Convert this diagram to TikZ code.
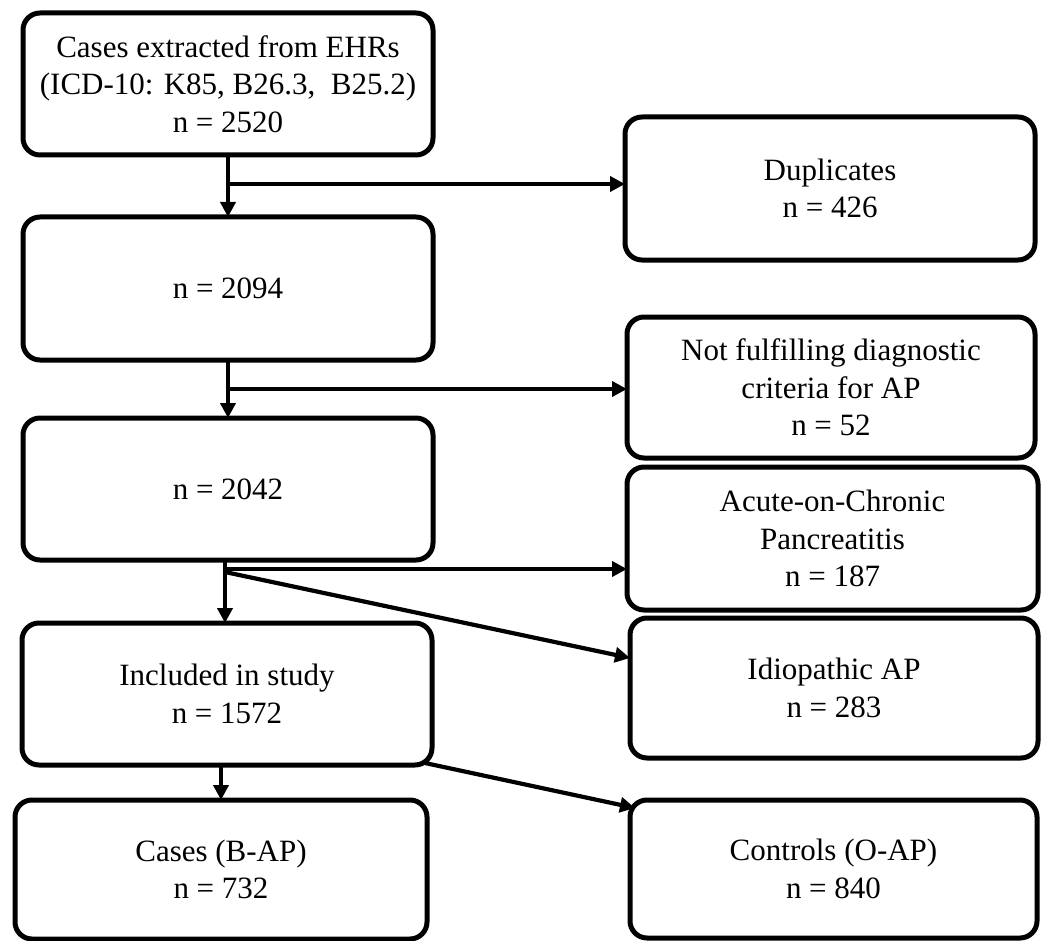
\documentclass[tikz,border=0pt]{standalone}
\usepackage{fontspec}
\setmainfont{Liberation Serif}
\usetikzlibrary{arrows.meta}
\begin{document}
\begin{tikzpicture}[x=1pt,y=-1pt,
  box/.style={draw, line width=5pt, rounded corners=17pt, align=center,
    font=\fontsize{31}{37.5}\selectfont, inner sep=0pt, outer sep=0pt},
  arr/.style={line width=4.2pt, -{Triangle[length=15pt,width=15pt]}},
  ln/.style={line width=4.2pt}]
\useasboundingbox (0,0) rectangle (1043,941);
\node[box, minimum width=410pt, minimum height=142pt] (b1) at (228,84)
  {Cases extracted from EHRs\\(ICD-10: K85, B26.3,\ \ B25.2)\\n = 2520};
\node[box, minimum width=410pt, minimum height=143pt] (b2) at (228,288.5) {n = 2094};
\node[box, minimum width=410pt, minimum height=142pt] (b3) at (228,489) {n = 2042};
\node[box, minimum width=410pt, minimum height=142pt] (b4) at (227,694) {Included in study\\n = 1572};
\node[box, minimum width=412pt, minimum height=139pt] (b5) at (221,869.5) {Cases (B-AP)\\n = 732};
\node[box, minimum width=410pt, minimum height=143pt] (r1) at (830,188.5) {Duplicates\\n = 426};
\node[box, minimum width=408pt, minimum height=141pt] (r2) at (831,387.5) {Not fulfilling diagnostic\\criteria for AP\\n = 52};
\node[box, minimum width=411pt, minimum height=143pt] (r3) at (832.5,538.5) {Acute-on-Chronic\\Pancreatitis\\n = 187};
\node[box, minimum width=408pt, minimum height=140pt] (r4) at (834,688) {Idiopathic AP\\n = 283};
\node[box, minimum width=407pt, minimum height=138pt] (r5) at (833.5,869) {Controls (O-AP)\\n = 840};
\coordinate (j1) at (228,184);
\coordinate (j2) at (228,389);
\coordinate (j3) at (225,569);
\coordinate (j4) at (225,572);
\draw[arr] (b1) -- (b2);
\draw[arr] (j1) -- (j1 -| r1.west);
\draw[arr] (b2) -- (b3);
\draw[arr] (j2) -- (j2 -| r2.west);
\draw[arr] (b3.south -| j3) -- (b4.north -| j3);
\draw[arr] (j3) -- (j3 -| r3.west);
\draw[arr] (j4) -- ([yshift=30pt]r4.west);
\draw[arr] (b5.north |- b4.south) -- (b5.north);
\draw[arr] ([xshift=-7pt,yshift=2pt]b4.south east) -- ([xshift=5pt,yshift=-8pt]r5.north west);
\end{tikzpicture}
\end{document}
